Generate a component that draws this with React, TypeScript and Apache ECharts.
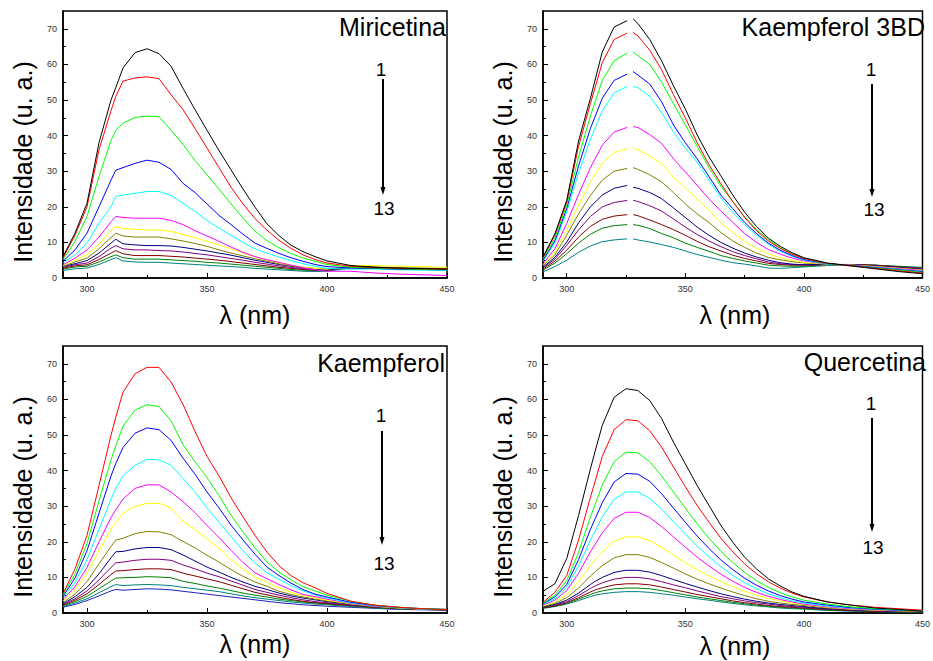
import React, { useEffect, useRef } from 'react';
import * as echarts from 'echarts';

// wavelength grids (nm)
const wl = [290, 295, 300, 305, 310, 312, 315, 320, 325, 330, 335, 340, 345, 350, 355, 360, 365, 370, 375, 380, 385, 390, 395, 400, 410, 420, 430, 440, 450];
const wl3bd = [290, 295, 300, 305, 310, 315, 320, 325.5, 326.5, 328, 330, 335, 340, 345, 350, 355, 360, 365, 370, 375, 380, 385, 390, 395, 400, 410, 420, 430, 440, 450];

const xMajor = [300, 350, 400, 450];
const xMinor = [325, 375, 425];
const yMajor = [0, 10, 20, 30, 40, 50, 60, 70];
const yMinor = [5, 15, 25, 35, 45, 55, 65];

const colorsBlackFirst = ['#000000', '#FF0000', '#00FF00', '#0000FF', '#00FFFF', '#FF00FF', '#FFFF00', '#808000', '#000080', '#800080', '#800000', '#008000', '#008080'];
const colorsRedFirst = ['#FF0000', '#00FF00', '#0000FF', '#00FFFF', '#FF00FF', '#FFFF00', '#808000', '#000080', '#800080', '#800000', '#008000', '#008080', '#2020C0'];

const miricetina = [
  [6, 12.6, 21, 38, 50, 53.5, 59, 63.3, 64.4, 63, 59.5, 53.3, 47.3, 41.5, 35.8, 30.4, 25, 19.9, 15.2, 11.9, 9.2, 7.4, 6.0, 4.8, 3.5, 3.0, 2.8, 2.6, 2.5],
  [5.6, 12, 20, 36, 47, 51, 55.3, 56.2, 56.5, 56, 51.5, 47.3, 42, 36.5, 31, 25.5, 20.8, 16.7, 13.4, 10.6, 8.3, 6.5, 5.2, 4.2, 3.3, 2.9, 2.7, 2.6, 2.5],
  [5.1, 10.3, 17.3, 28.5, 38.7, 41.5, 43.5, 45.1, 45.5, 45.3, 41.5, 37.5, 33, 29, 25, 20.8, 16.8, 13.2, 10.5, 8.5, 6.9, 5.6, 4.7, 3.8, 3.0, 2.8, 2.6, 2.4, 2.3],
  [4.7, 7.9, 12.6, 20, 27.5, 30.3, 31, 32.2, 33.1, 32.5, 30.5, 26.6, 24, 20.8, 17.6, 15, 12.3, 9.8, 8.3, 6.9, 5.7, 4.7, 3.8, 3.2, 2.8, 2.7, 2.5, 2.4, 2.3],
  [4.2, 6.5, 9.8, 15.4, 20, 22.9, 23.3, 23.8, 24.3, 24.3, 23.2, 21, 18.7, 16.2, 14, 12, 10, 8.2, 7.0, 5.9, 4.9, 4.0, 3.3, 2.7, 2.5, 2.5, 2.3, 2.2, 2.1],
  [3.7, 5.6, 7.9, 11.5, 15.8, 17.3, 17, 16.8, 16.8, 16.8, 16.2, 15, 13.3, 11.8, 10.3, 8.7, 7.2, 6.0, 5.1, 4.4, 3.6, 2.9, 2.3, 1.9, 1.9, 1.4, 1.1, 0.9, 0.7],
  [3.5, 5, 6.5, 9.5, 13.3, 14.5, 13.9, 13.7, 13.5, 13.5, 13.1, 12.2, 11.3, 10.3, 9.3, 8.2, 7.0, 6.0, 5.1, 4.3, 3.6, 3.0, 2.7, 2.5, 3.5, 3.5, 3.3, 3.2, 3.0],
  [3.3, 4.5, 5.6, 8.2, 11.4, 12.6, 11.8, 11.5, 11.5, 11.5, 11, 10.4, 9.7, 8.9, 7.9, 7.0, 6.2, 5.4, 4.7, 4.0, 3.4, 3.0, 2.7, 2.5, 3.3, 3.1, 2.9, 2.8, 2.7],
  [3.3, 4.0, 4.9, 7.0, 9.8, 10.9, 9.6, 9.3, 9.1, 9.1, 9.0, 8.6, 8.1, 7.6, 7.0, 6.4, 5.7, 5.0, 4.4, 3.8, 3.3, 2.9, 2.6, 2.4, 3.1, 3.0, 2.7, 2.6, 2.5],
  [3.0, 3.7, 4.2, 6.0, 8.4, 9.1, 8.2, 7.9, 7.9, 7.7, 7.6, 7.3, 6.9, 6.5, 6.0, 5.5, 5.0, 4.4, 3.9, 3.4, 3.0, 2.6, 2.4, 2.3, 3.0, 3.0, 2.7, 2.6, 2.5],
  [2.8, 3.4, 3.7, 5.2, 7.0, 7.7, 6.8, 6.3, 6.3, 6.3, 6.1, 5.9, 5.6, 5.3, 5.0, 4.6, 4.2, 3.8, 3.4, 3.0, 2.7, 2.4, 2.2, 2.2, 3.0, 2.9, 2.7, 2.6, 2.5],
  [2.5, 3.1, 3.3, 4.5, 6.0, 6.5, 5.7, 5.3, 5.3, 5.3, 5.1, 4.9, 4.7, 4.4, 4.2, 3.9, 3.6, 3.3, 3.0, 2.7, 2.4, 2.2, 2.1, 2.1, 3.0, 2.8, 2.6, 2.4, 2.3],
  [2.1, 2.6, 2.8, 3.8, 5.2, 5.7, 4.8, 4.5, 4.4, 4.4, 4.2, 4.0, 3.8, 3.6, 3.4, 3.2, 3.0, 2.7, 2.5, 2.3, 2.1, 1.9, 1.8, 1.9, 2.8, 2.7, 2.5, 2.4, 2.3],
];

const kaempferol3bd = [
  [5.9, 12.4, 21.8, 38.5, 50.5, 63.5, 70.5, 72.3, null, 72.8, 71.5, 67, 61, 54, 47.5, 40.2, 34, 28.7, 23.3, 18.5, 14.5, 11.2, 8.9, 7.1, 5.7, 4.2, 3.4, 2.6, 1.8, 1.2],
  [5.7, 12, 21.3, 37, 49, 60.5, 67, 68.8, null, 69, 68, 64, 58.5, 51.5, 45, 38, 31.8, 26.5, 21.5, 17, 13.3, 10.4, 8.3, 6.7, 5.5, 4.1, 3.4, 2.7, 2.0, 1.4],
  [5.4, 11.2, 20.4, 34, 45.5, 55.5, 61, 63.2, null, 63.5, 62.5, 60, 55, 49, 43, 37, 31, 25.8, 21.5, 17.2, 13.6, 10.8, 8.5, 6.8, 5.5, 4.0, 3.4, 2.8, 2.2, 1.6],
  [5.0, 10.4, 19.5, 31.5, 42, 50.5, 55.5, 57.3, null, 58, 57, 54.5, 49.5, 43, 38, 33.5, 28.5, 23.3, 19.5, 15.6, 12.5, 9.8, 7.8, 6.3, 5.2, 4.0, 3.5, 2.9, 2.3, 1.8],
  [4.7, 9.8, 18.5, 29.5, 39, 47, 52, 53.8, null, 53.8, 53.5, 51, 46.5, 41, 36.5, 32.5, 27.5, 22.5, 18.5, 15, 12, 9.5, 7.5, 6.1, 5.0, 3.9, 3.5, 3.0, 2.4, 1.9],
  [4.0, 8.2, 15.3, 23.5, 31, 37.3, 41, 42.3, null, 42.5, 42.3, 40.3, 37.8, 33.5, 29.8, 26, 22.2, 18.8, 15.6, 12.5, 10, 8, 6.7, 5.6, 4.8, 3.9, 3.6, 3.1, 2.6, 2.1],
  [3.7, 7.3, 13.4, 20.5, 27, 32.2, 35.3, 36.3, null, 36.5, 36, 34.3, 32.2, 28.3, 25.3, 22.2, 19, 15.5, 12.8, 10.3, 8.3, 6.8, 5.7, 4.9, 4.4, 3.9, 3.6, 3.2, 2.7, 2.2],
  [3.4, 6.5, 12, 18, 23.2, 27.5, 30, 30.8, null, 31, 30.5, 29, 27, 24, 20.8, 18, 15.6, 12.8, 10.4, 8.6, 7.0, 5.8, 5.1, 4.6, 4.2, 3.9, 3.7, 3.3, 2.8, 2.3],
  [3.0, 5.8, 10.1, 15.5, 20, 23.3, 25.2, 26, null, 25.5, 25.2, 24, 22.3, 19.7, 17, 14.3, 12, 10, 8.4, 7, 5.9, 5.0, 4.3, 3.9, 3.7, 3.8, 3.7, 3.4, 2.9, 2.4],
  [2.8, 5.3, 9.2, 13.5, 17.3, 20, 21.2, 21.8, null, 21.8, 21.5, 20.3, 18.8, 16.6, 14.3, 12.2, 10.4, 8.8, 7.4, 6.3, 5.4, 4.5, 4.0, 3.8, 3.7, 3.8, 3.7, 3.5, 3.0, 2.6],
  [2.5, 4.7, 7.8, 11.5, 14.5, 16.5, 17.4, 17.8, null, 17.8, 17.5, 16.3, 15, 13.6, 12, 10.3, 8.8, 7.6, 6.4, 5.5, 4.8, 4.1, 3.8, 3.6, 3.6, 3.8, 3.8, 3.6, 3.1, 2.7],
  [2.2, 4.2, 6.8, 9.8, 12.3, 14, 14.7, 15, null, 15, 14.8, 13.9, 12.5, 11.3, 9.8, 8.6, 7.5, 6.3, 5.5, 4.8, 4.2, 3.6, 3.4, 3.3, 3.3, 3.8, 3.8, 3.6, 3.2, 2.8],
  [1.7, 3.2, 5.0, 7.2, 9.0, 10.2, 10.7, 11, null, 11, 10.7, 10.1, 9.4, 8.6, 7.6, 6.6, 5.8, 5.0, 4.3, 3.9, 3.4, 2.8, 2.7, 2.9, 3.1, 3.5, 3.7, 3.6, 3.3, 3.0],
];

const kaempferol = [
  [5.4, 12.4, 21.8, 35.8, 49.9, 55, 62, 67.2, 69, 69, 64.9, 58.6, 51, 44, 38.5, 32.4, 27, 21.8, 17.1, 13.3, 10.5, 8.5, 7.1, 5.5, 3.3, 2.2, 1.6, 1.2, 0.9],
  [5.0, 11, 19.5, 31.5, 43, 47, 52.5, 57, 58.5, 58, 54, 47.3, 42.5, 38, 33, 27.5, 22.8, 18.3, 14.3, 11.5, 9.3, 7.4, 6.2, 5.0, 3.3, 2.2, 1.6, 1.2, 1.0],
  [4.7, 9.8, 17.5, 28, 38.5, 42, 46.5, 50.5, 52, 51.5, 48.5, 43.5, 39, 34, 29.5, 24.7, 20.5, 16.5, 12.9, 10.5, 8.4, 6.6, 5.3, 4.5, 3.0, 2.1, 1.6, 1.2, 1.0],
  [4.3, 8.6, 15, 23.5, 32, 35, 38.5, 41.5, 43.2, 43, 41.5, 37.8, 34, 29.5, 25.5, 21.5, 17.5, 14, 11.3, 9.5, 7.7, 6.2, 5.1, 4.2, 2.8, 2.0, 1.5, 1.1, 1.0],
  [3.8, 7.4, 12.8, 20, 26.8, 29, 32, 35, 36, 36, 34, 31.3, 28.2, 24.6, 21.2, 17.6, 14.2, 11.3, 9.6, 8, 6.5, 5.2, 4.6, 3.9, 2.7, 1.9, 1.5, 1.1, 1.0],
  [3.4, 6.5, 11.2, 17.5, 23.5, 25.5, 28, 30, 30.8, 30.8, 29.5, 25.8, 23.5, 20.8, 18.2, 15, 12.3, 10.1, 8.6, 7, 5.8, 4.9, 4.3, 3.6, 2.6, 1.9, 1.4, 1.1, 1.0],
  [2.9, 5.3, 8.8, 13.8, 18.7, 20.5, 21, 22.3, 22.9, 22.8, 22, 20.1, 18.3, 16.2, 14.3, 12.2, 10.3, 8.7, 7.5, 6.1, 5.2, 4.5, 3.9, 3.4, 2.5, 1.8, 1.4, 1.1, 1.0],
  [2.6, 4.6, 7.2, 11, 15.5, 17.2, 17.3, 18, 18.4, 18.4, 17.8, 16.3, 14.6, 12.9, 11.5, 10, 8.7, 7.5, 6.6, 5.6, 4.8, 4.2, 3.7, 3.2, 2.4, 1.8, 1.4, 1.1, 0.9],
  [2.4, 4.0, 6.2, 9.3, 12.8, 14.1, 14.3, 14.8, 15.1, 15.1, 14.8, 13.5, 12.4, 11.2, 10.2, 9, 7.8, 6.6, 5.8, 5, 4.3, 3.7, 3.2, 2.9, 2.2, 1.7, 1.3, 1.1, 0.9],
  [2.2, 3.6, 5.4, 8, 10.8, 11.8, 11.9, 12.2, 12.4, 12.4, 12.2, 11.2, 10.4, 9.6, 8.8, 7.8, 6.8, 5.8, 5.1, 4.4, 3.8, 3.3, 2.9, 2.7, 2.1, 1.6, 1.3, 1.0, 0.9],
  [2.0, 3.2, 4.7, 6.8, 9.0, 9.8, 9.9, 10, 10.2, 10.1, 9.9, 8.9, 8.3, 7.6, 7.0, 6.3, 5.6, 5.0, 4.5, 3.9, 3.5, 3.1, 2.8, 2.5, 2.0, 1.5, 1.2, 1.0, 0.9],
  [1.8, 2.8, 4.0, 5.7, 7.4, 8.0, 7.7, 7.9, 8.0, 7.9, 7.7, 7.2, 6.8, 6.4, 6.0, 5.4, 4.8, 4.3, 3.9, 3.5, 3.1, 2.8, 2.5, 2.3, 1.8, 1.4, 1.1, 1.0, 0.8],
  [1.6, 2.4, 3.5, 4.8, 6.2, 6.6, 6.4, 6.6, 6.8, 6.7, 6.5, 6.1, 5.7, 5.3, 4.9, 4.5, 4.1, 3.7, 3.3, 2.9, 2.6, 2.3, 2.1, 1.9, 1.6, 1.3, 1.0, 0.9, 0.8],
];

const quercetina = [
  [6.1, 8.2, 15.3, 27.4, 40.5, 45.5, 52.7, 60.6, 63, 62.5, 59.7, 54.6, 48, 41.9, 35.8, 30.2, 24.6, 19.9, 15.7, 12.4, 9.6, 7.6, 5.9, 4.7, 3.1, 2.2, 1.4, 1.0, 0.5],
  [3.0, 5.8, 10.5, 20.5, 32.5, 37, 44, 51.5, 54.3, 54, 51.2, 46.6, 41, 35.5, 30.2, 25.5, 21, 17.2, 13.8, 11, 8.8, 7.0, 5.6, 4.5, 3.1, 2.2, 1.6, 1.2, 0.8],
  [2.8, 5.0, 9.0, 17, 27, 30.5, 36, 42.5, 45.2, 45, 42.5, 38.5, 34, 29.5, 25, 21, 17.3, 14.2, 11.4, 9.1, 7.2, 5.7, 4.5, 3.6, 2.5, 1.7, 1.2, 0.9, 0.6],
  [2.6, 4.5, 8.0, 15, 23.5, 26.5, 31, 36.8, 39.2, 39, 37, 33.5, 29.5, 25.5, 21.6, 18.1, 14.9, 12.2, 9.8, 7.8, 6.2, 4.9, 3.9, 3.1, 2.2, 1.5, 1.1, 0.8, 0.6],
  [2.4, 4.0, 7.2, 13.2, 20.5, 23, 27, 32, 34, 34, 32.2, 29.2, 25.7, 22.2, 18.8, 15.8, 13, 10.6, 8.5, 6.8, 5.4, 4.3, 3.4, 2.8, 1.9, 1.4, 1.0, 0.8, 0.6],
  [2.2, 3.6, 6.3, 11.2, 17.2, 19.3, 22.5, 26.6, 28.3, 28.3, 26.8, 24.3, 21.4, 18.5, 15.7, 13.2, 10.9, 8.9, 7.2, 5.8, 4.7, 3.8, 3.1, 2.5, 1.7, 1.2, 0.9, 0.7, 0.5],
  [2.0, 3.1, 5.2, 8.8, 13.3, 14.9, 17.2, 20.2, 21.4, 21.4, 20.3, 18.5, 16.3, 14.1, 12.2, 10.4, 8.8, 7.4, 6.1, 5.0, 4.1, 3.4, 2.8, 2.4, 1.6, 1.1, 0.8, 0.6, 0.5],
  [1.8, 2.7, 4.3, 7.0, 10.4, 11.6, 13.3, 15.5, 16.4, 16.4, 15.6, 14.2, 12.6, 11, 9.5, 8.2, 7.0, 5.9, 4.9, 4.0, 3.3, 2.8, 2.4, 2.1, 1.4, 1.0, 0.8, 0.6, 0.5],
  [1.7, 2.4, 3.6, 5.6, 8.0, 8.9, 10, 11.4, 12, 12, 11.5, 10.5, 9.4, 8.3, 7.3, 6.3, 5.4, 4.6, 3.9, 3.3, 2.8, 2.4, 2.1, 1.8, 1.2, 0.9, 0.7, 0.5, 0.4],
  [1.6, 2.2, 3.2, 4.9, 6.9, 7.6, 8.5, 9.5, 10, 10, 9.6, 8.8, 7.9, 7.1, 6.2, 5.4, 4.6, 4.0, 3.4, 2.9, 2.5, 2.1, 1.8, 1.6, 1.1, 0.8, 0.6, 0.5, 0.4],
  [1.5, 2.0, 2.9, 4.3, 5.9, 6.5, 7.1, 7.9, 8.2, 8.2, 7.9, 7.3, 6.6, 5.9, 5.2, 4.6, 4.0, 3.4, 2.9, 2.5, 2.1, 1.8, 1.6, 1.4, 1.0, 0.7, 0.5, 0.4, 0.4],
  [1.4, 1.9, 2.7, 3.9, 5.2, 5.7, 6.2, 6.8, 7, 7, 6.8, 6.3, 5.7, 5.1, 4.5, 4.0, 3.5, 3.0, 2.6, 2.2, 1.9, 1.6, 1.4, 1.2, 0.8, 0.6, 0.5, 0.4, 0.3],
  [1.3, 1.8, 2.5, 3.5, 4.6, 5.0, 5.4, 5.8, 6, 6, 5.8, 5.4, 5.0, 4.5, 4.0, 3.6, 3.1, 2.7, 2.3, 2.0, 1.7, 1.4, 1.2, 1.1, 0.7, 0.5, 0.4, 0.3, 0.3],
];

const panelTitles = ['Miricetina', 'Kaempferol 3BD', 'Kaempferol', 'Quercetina'];
const yTitle = 'Intensidade (u. a.)';
const xTitle = 'λ (nm)';

const FONT = '"Liberation Sans", Arial, Helvetica, sans-serif';

const panels = [
  { left: 63, top: 11, curves: miricetina, x: wl, colors: colorsBlackFirst },
  { left: 543, top: 11, curves: kaempferol3bd, x: wl3bd, colors: colorsBlackFirst },
  { left: 63, top: 346, curves: kaempferol, x: wl, colors: colorsRedFirst },
  { left: 543, top: 346, curves: quercetina, x: wl, colors: colorsBlackFirst },
];

// annotation placement per panel
const decor = [
  { titleX: 446, titleY: 27, yNameX: 23, yNameY: 162, xNameX: 255, xNameY: 315, oneX: 381, oneY: 69, arrowX: 383, a0: 79, a1: 195, thX: 384, thY: 208 },
  { titleX: 925, titleY: 27, yNameX: 503, yNameY: 162, xNameX: 735, xNameY: 315, oneX: 871, oneY: 69, arrowX: 872, a0: 84, a1: 197, thX: 874, thY: 209 },
  { titleX: 445, titleY: 363, yNameX: 23, yNameY: 497, xNameX: 255, xNameY: 644, oneX: 381, oneY: 415, arrowX: 382, a0: 431, a1: 545, thX: 384, thY: 563 },
  { titleX: 926, titleY: 362, yNameX: 503, yNameY: 497, xNameX: 735, xNameY: 646, oneX: 871, oneY: 403, arrowX: 872, a0: 418, a1: 532, thX: 873, thY: 547 },
];

function buildOption() {
  const grid: any[] = [];
  const xAxis: any[] = [];
  const yAxis: any[] = [];
  const series: any[] = [];
  const graphic: any[] = [];

  panels.forEach((p, i) => {
    grid.push({
      left: p.left, top: p.top, width: 384, height: 267,
      show: true, borderColor: '#000', borderWidth: 1.5, containLabel: false,
    });
    xAxis.push({
      type: 'value', gridIndex: i, min: 290, max: 450, splitNumber: 3,
      axisLine: { show: true, onZero: false, lineStyle: { color: '#000', width: 1.5 } },
      axisTick: { show: true, inside: true, length: 5, customValues: xMajor, lineStyle: { color: '#000', width: 1 } },
      axisLabel: {
        customValues: xMajor, fontSize: 9, color: '#333', margin: 6, fontFamily: FONT,
        formatter: (v: number) => (xMajor.includes(v) ? String(v) : ''),
      },
      splitLine: { show: false },
    });
    xAxis.push({
      type: 'value', gridIndex: i, min: 290, max: 450, position: 'bottom',
      axisLine: { show: false },
      axisTick: { show: true, inside: true, length: 3, customValues: xMinor, lineStyle: { color: '#000', width: 1 } },
      axisLabel: { show: false },
      splitLine: { show: false },
    });
    yAxis.push({
      type: 'value', gridIndex: i, min: 0, max: 75, interval: 10,
      axisLine: { show: true, onZero: false, lineStyle: { color: '#000', width: 1.5 } },
      axisTick: { show: true, inside: true, length: 5, customValues: yMajor, lineStyle: { color: '#000', width: 1 } },
      axisLabel: {
        customValues: yMajor, fontSize: 9, color: '#333', margin: 6, fontFamily: FONT,
        formatter: (v: number) => (yMajor.includes(v) ? String(v) : ''),
      },
      splitLine: { show: false },
    });
    yAxis.push({
      type: 'value', gridIndex: i, min: 0, max: 75, position: 'left',
      axisLine: { show: false },
      axisTick: { show: true, inside: true, length: 3, customValues: yMinor, lineStyle: { color: '#000', width: 1 } },
      axisLabel: { show: false },
      splitLine: { show: false },
    });

    p.curves.forEach((c, k) => {
      series.push({
        type: 'line', xAxisIndex: i * 2, yAxisIndex: i * 2,
        data: p.x.map((xv, j) => [xv, c[j]]),
        showSymbol: false, symbol: 'none', connectNulls: false, silent: true,
        lineStyle: { color: p.colors[k], width: 1 },
        itemStyle: { color: p.colors[k] },
        z: 2 + (p.curves.length - k),
      });
    });

    const d = decor[i];
    graphic.push(
      { type: 'text', x: d.titleX, y: d.titleY, z: 100, style: { text: panelTitles[i], font: `25px ${FONT}`, fill: '#000', align: 'right', verticalAlign: 'middle' } },
      { type: 'text', x: d.yNameX, y: d.yNameY, rotation: Math.PI / 2, z: 100, style: { text: yTitle, font: `25px ${FONT}`, fill: '#000', align: 'center', verticalAlign: 'middle' } },
      { type: 'text', x: d.xNameX, y: d.xNameY, z: 100, style: { text: xTitle, font: `25px ${FONT}`, fill: '#000', align: 'center', verticalAlign: 'middle' } },
      { type: 'text', x: d.oneX, y: d.oneY, z: 100, style: { text: '1', font: `19px ${FONT}`, fill: '#000', align: 'center', verticalAlign: 'middle' } },
      { type: 'text', x: d.thX, y: d.thY, z: 100, style: { text: '13', font: `19px ${FONT}`, fill: '#000', align: 'center', verticalAlign: 'middle' } },
      { type: 'line', z: 100, shape: { x1: d.arrowX, y1: d.a0, x2: d.arrowX, y2: d.a1 - 6 }, style: { stroke: '#000', lineWidth: 2 } },
      { type: 'polygon', z: 100, shape: { points: [[d.arrowX - 2.5, d.a1 - 8], [d.arrowX + 2.5, d.a1 - 8], [d.arrowX, d.a1]] }, style: { fill: '#000' } },
    );
  });

  return { animation: false, backgroundColor: '#fff', grid, xAxis, yAxis, series, graphic };
}

export default function App() {
  const ref = useRef<HTMLDivElement>(null);
  useEffect(() => {
    if (!ref.current) return;
    const chart = echarts.init(ref.current, undefined, { renderer: 'svg' });
    chart.setOption(buildOption() as any);
    return () => chart.dispose();
  }, []);
  return <div ref={ref} style={{ position: 'absolute', left: 0, top: 0, width: 933, height: 661 }} />;
}
